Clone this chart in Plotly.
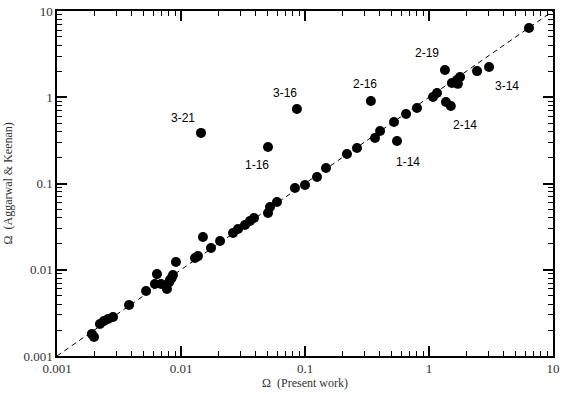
"""Collision strengths: present work vs Aggarwal & Keenan (log-log)."""

import math

import plotly.graph_objects as go

# Omega values for transitions lying close to the diagonal
omega_present = [
    0.00191, 0.00199, 0.00222, 0.00239, 0.00258, 0.00283, 0.00381, 0.00523,
    0.0064, 0.00616, 0.0069, 0.0077, 0.00815, 0.00861, 0.0091, 0.0084, 0.0080,
    0.01297, 0.0137, 0.01503, 0.01745, 0.02065, 0.02626, 0.02884, 0.0328,
    0.036, 0.0388, 0.0503, 0.0522, 0.0594, 0.083, 0.1, 0.125, 0.1477, 0.218,
    0.2627, 0.367, 0.403, 0.522, 0.653, 0.8, 1.077, 1.16, 1.53, 1.68, 1.78,
    1.71, 2.44, 6.4,
]
omega_ak = [
    0.0018, 0.00166, 0.00235, 0.00255, 0.00269, 0.00283, 0.0039, 0.00567,
    0.0089, 0.00684, 0.00684, 0.00598, 0.0076, 0.00869, 0.0123, 0.0080, 0.0071,
    0.01368, 0.0144, 0.024, 0.01786, 0.02153, 0.02667, 0.02965, 0.033,
    0.0367, 0.0398, 0.0455, 0.0534, 0.0611, 0.0887, 0.0962, 0.119, 0.151, 0.22,
    0.258, 0.337, 0.406, 0.516, 0.64, 0.75, 1.007, 1.12, 1.46, 1.585, 1.72,
    1.43, 2.01, 6.36,
]

# labelled transitions (discrepant ones)
labels = ["3-21", "3-16", "1-16", "2-16", "1-14", "2-14", "2-14", "2-19", "3-14"]
label_present = [0.0145, 0.0861, 0.0503, 0.34, 0.552, 1.37, 1.50, 1.345, 3.05]
label_ak = [0.386, 0.731, 0.265, 0.905, 0.311, 0.88, 0.79, 2.07, 2.24]

# pixel offsets of the label text from its point (right, down)
LABEL_OFFSETS = {
    "3-21": (-18, -15), "3-16": (-12, -16), "1-16": (-11, 18), "2-16": (-6, -17),
    "1-14": (11, 21), "2-14": (14, 19), "2-19": (-18, -17), "3-14": (18, 19),
}

decades = [0.001, 0.01, 0.1, 1, 10]
decade_text = ["0.001", "0.01", "0.1", "1", "10"]
minor_vals = [m * d for d in decades[:-1] for m in range(2, 10)]

SERIF = "Liberation Serif, Times New Roman, serif"

fig = go.Figure()
fig.add_trace(go.Scatter(
    x=[0.001, 10], y=[0.001, 10], mode="lines",
    line=dict(color="black", width=1, dash="5px,4px"), hoverinfo="skip",
))
fig.add_trace(go.Scatter(
    x=omega_present + label_present, y=omega_ak + label_ak, mode="markers",
    marker=dict(color="black", size=10, line=dict(width=0)),
))

placed = set()
for i, name in enumerate(labels):
    if name in placed:
        continue
    placed.add(name)
    # the second 2-14 point carries the label
    j = 6 if name == "2-14" else i
    dx, dy = LABEL_OFFSETS[name]
    fig.add_annotation(
        x=math.log10(label_present[j]), y=math.log10(label_ak[j]),
        xref="x", yref="y", text=name, showarrow=False,
        xshift=dx, yshift=-dy,
        font=dict(family="Liberation Sans, Arial, sans-serif", size=12, color="black"),
    )

# y-axis title sits close to the page edge, so place it by hand
fig.add_annotation(
    x=-0.099, y=0.5, xref="paper", yref="paper", text="Ω  (Aggarwal & Keenan)",
    textangle=-90, showarrow=False, xanchor="center", yanchor="middle",
    font=dict(family=SERIF, size=12, color="#333"),
)

axis_common = dict(
    type="log", range=[-3, 1], tickvals=decades, ticktext=decade_text,
    ticks="inside", ticklen=10, tickwidth=1.5, tickcolor="black",
    showline=True, linecolor="black", linewidth=1.5, mirror="allticks",
    showgrid=False, zeroline=False, ticklabeloverflow="allow",
    minor=dict(tickvals=minor_vals, ticks="inside", ticklen=5,
               tickcolor="black", tickwidth=1, showgrid=False),
    tickfont=dict(family=SERIF, size=13, color="#333"),
)

fig.update_xaxes(
    **axis_common,
    title=dict(text="Ω  (Present work)", standoff=2,
               font=dict(family=SERIF, size=12, color="#333")),
)
fig.update_yaxes(**axis_common)

fig.update_layout(
    width=563, height=394,
    margin=dict(l=57, r=10, t=11, b=38, autoexpand=False),
    paper_bgcolor="white", plot_bgcolor="white",
    showlegend=False,
)

# drop the default page margin so the figure sits at the window's corner
fig.write_html(
    "out.html",
    config={"displayModeBar": False},
    post_script="document.body.style.margin='0';",
)
